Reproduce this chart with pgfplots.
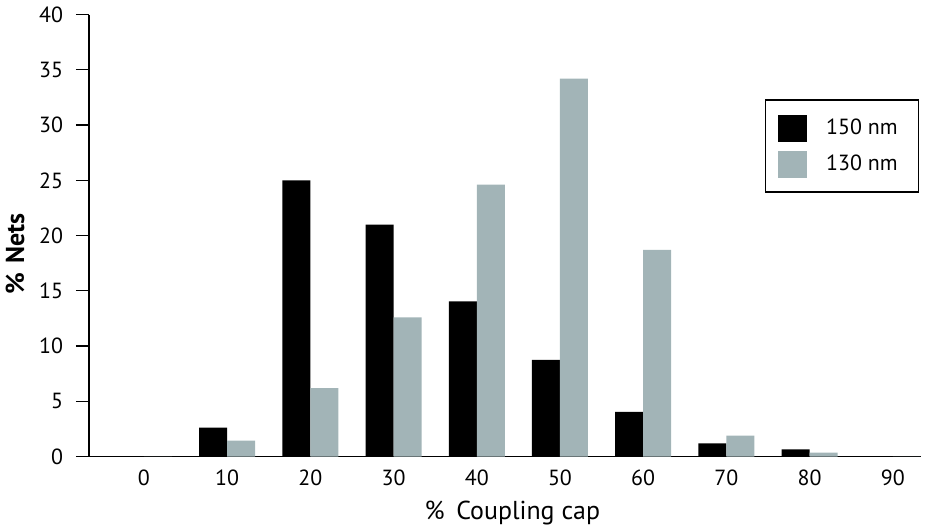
\documentclass[border=0pt]{standalone}
\usepackage{pgfplots}
\pgfplotsset{compat=1.18}
\usepackage{fontspec}
\setmainfont{PT Sans}
\definecolor{bargray}{RGB}{162,180,183}
\pgfplotstableread{
x a b
0 0 0
1 2.62 1.45
2 25.0 6.2
3 21.0 12.6
4 14.05 24.6
5 8.75 34.2
6 4.04 18.7
7 1.2 1.9
8 0.66 0.36
9 0 0
}\datatable
\begin{document}
\begin{tikzpicture}
\begin{axis}[
  scale only axis,
  width=415.85bp, height=221bp,
  xmin=-0.66, xmax=9.335, ymin=0, ymax=40,
  axis lines*=left,
  axis line style={line width=0.6bp},
  ybar=0pt, bar width=14bp,
  xtick={0,...,9},
  xticklabels={0,10,20,30,40,50,60,70,80,90},
  ytick={0,5,...,40},
  x tick style={draw=none},
  y tick style={line width=0.6bp, black},
  tick align=outside,
  major tick length=6.5bp,
  /pgf/number format/assume math mode=true,
  ticklabel style={font=\fontsize{11}{13}\selectfont},
  xticklabel style={yshift=3.5bp},
  yticklabel style={xshift=-3bp},
  xlabel={\%\hspace{0.45em}Coupling cap},
  ylabel={\bfseries\%\hspace{0.35em}Nets},
  xlabel style={font=\fontsize{13}{15}\selectfont, at={(axis description cs:0.509,0)}, anchor=center, yshift=-28bp},
  ylabel style={font=\fontsize{13}{15}\selectfont, inner sep=0pt, at={(axis description cs:0,0.459)}, anchor=center, yshift=37bp},
  legend style={at={(1,0.808)}, anchor=north east, xshift=-0.7bp, draw=black, line width=0.6bp,
    inner xsep=6.5bp, inner ysep=7.25bp, row sep=4.5bp,
    font=\fontsize{11}{13}\selectfont,
    nodes={inner xsep=4bp}},
  legend cell align=left,
  legend image code/.code={\fill[#1] (0bp,-6.75bp) rectangle (14.5bp,6.75bp); \path[draw=none,fill=none] (0bp,0bp) -- (20bp,0bp);},
]
\addplot[fill=black, draw=none] table[x=x, y=a] {\datatable};
\addplot[fill=bargray, draw=none] table[x=x, y=b] {\datatable};
\legend{150 nm\hspace{9.5bp}, 130 nm\hspace{9.5bp}}
\end{axis}
\path (-44.5bp,-36bp) rectangle (431.5bp,226.5bp);
\end{tikzpicture}
\end{document}
